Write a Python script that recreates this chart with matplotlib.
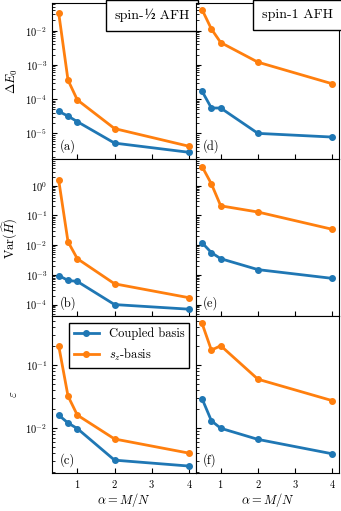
import numpy as np
import matplotlib
matplotlib.use("Agg")
from matplotlib import pyplot as plt
from matplotlib.offsetbox import AnchoredOffsetbox, HPacker, TextArea

plt.rcParams['mathtext.fontset'] = 'cm'
plt.rcParams['font.family'] = ['cmr10', 'DejaVu Serif']
plt.rcParams['axes.formatter.use_mathtext'] = True
plt.rcParams['xtick.direction'] = 'in'
plt.rcParams['ytick.direction'] = 'in'
plt.rcParams['xtick.labelsize'] = 7.5
plt.rcParams['ytick.labelsize'] = 7.5
plt.rcParams['axes.labelsize'] = 9

alpha = [0.5, 0.75, 1, 2, 4]

# spin-1/2 AFH
dE_half_coupled = [4.4e-5, 3.2e-5, 2.2e-5, 5.2e-6, 2.8e-6]
dE_half_sz = [3.3e-2, 3.6e-4, 9.5e-5, 1.38e-5, 4.2e-6]
var_half_coupled = [9.5e-4, 6.5e-4, 6.0e-4, 1.0e-4, 7.0e-5]
var_half_sz = [1.55, 1.3e-2, 3.5e-3, 5.0e-4, 1.7e-4]
eps_half_coupled = [1.6e-2, 1.2e-2, 9.8e-3, 3.1e-3, 2.5e-3]
eps_half_sz = [0.20, 3.2e-2, 1.6e-2, 6.7e-3, 4.0e-3]

# spin-1 AFH
dE_one_coupled = [1.7e-4, 5.5e-5, 5.5e-5, 1.0e-5, 7.8e-6]
dE_one_sz = [4.1e-2, 1.12e-2, 4.5e-3, 1.2e-3, 2.8e-4]
var_one_coupled = [1.2e-2, 5.6e-3, 3.5e-3, 1.5e-3, 7.6e-4]
var_one_sz = [4.4, 1.15, 0.21, 0.13, 3.4e-2]
eps_one_coupled = [2.9e-2, 1.3e-2, 9.9e-3, 6.6e-3, 3.9e-3]
eps_one_sz = [0.45, 0.17, 0.20, 5.9e-2, 2.7e-2]

coupled = [[dE_half_coupled, dE_one_coupled],
           [var_half_coupled, var_one_coupled],
           [eps_half_coupled, eps_one_coupled]]
sz = [[dE_half_sz, dE_one_sz],
      [var_half_sz, var_one_sz],
      [eps_half_sz, eps_one_sz]]
ylabels = [r'$\Delta E_0$', r'$\mathrm{Var}(\widehat{H})$', r'$\varepsilon$']
letters = [['(a)', '(d)'], ['(b)', '(e)'], ['(c)', '(f)']]
# title pieces; the "½" comes from STIX since cmr10 has no such glyph
titles = [['spin-', '½', ' AFH'], ['spin-1 AFH']]

fig, axs = plt.subplots(3, 2, figsize=(3.41, 5.11), dpi=100, sharex=True, sharey='row')
fig.subplots_adjust(left=0.153, right=0.994, top=0.995, bottom=0.074, wspace=0, hspace=0)

for i in range(3):
    for j in range(2):
        ax = axs[i, j]
        ax.plot(alpha, coupled[i][j], 'o-', color='tab:blue', lw=2, ms=4, label='Coupled basis')
        ax.plot(alpha, sz[i][j], 'o-', color='tab:orange', lw=2, ms=4, label=r'$s_z$-basis')
        ax.set_yscale('log')
        ax.set_xticks([1, 2, 3, 4])
        ax.text(0.05, 0.04, letters[i][j], transform=ax.transAxes, fontsize=9,
                ha='left', va='bottom')
    axs[i, 0].set_ylabel(ylabels[i])

for j in range(2):
    axs[2, j].set_xlabel(r'$\alpha = M/N$', labelpad=1)

for ax, parts in zip(axs[0], titles):
    areas = []
    for p in parts:
        fam = ['STIXGeneral'] if p == '½' else ['cmr10']
        areas.append(TextArea(p, textprops=dict(size=10, family=fam)))
    box = AnchoredOffsetbox(loc='upper right', child=HPacker(children=areas, pad=0, sep=0),
                            pad=0.45, borderpad=0, frameon=True)
    box.patch.set_boxstyle('square,pad=0.2')
    box.patch.set_edgecolor('black')
    box.patch.set_linewidth(1)
    ax.add_artist(box)

leg = axs[2, 0].legend(loc='upper right', fontsize=9, fancybox=False,
                       edgecolor='black', framealpha=1)
leg.get_frame().set_linewidth(1)

fig.align_ylabels(axs[:, 0])
fig.savefig('out.png', dpi=100)
